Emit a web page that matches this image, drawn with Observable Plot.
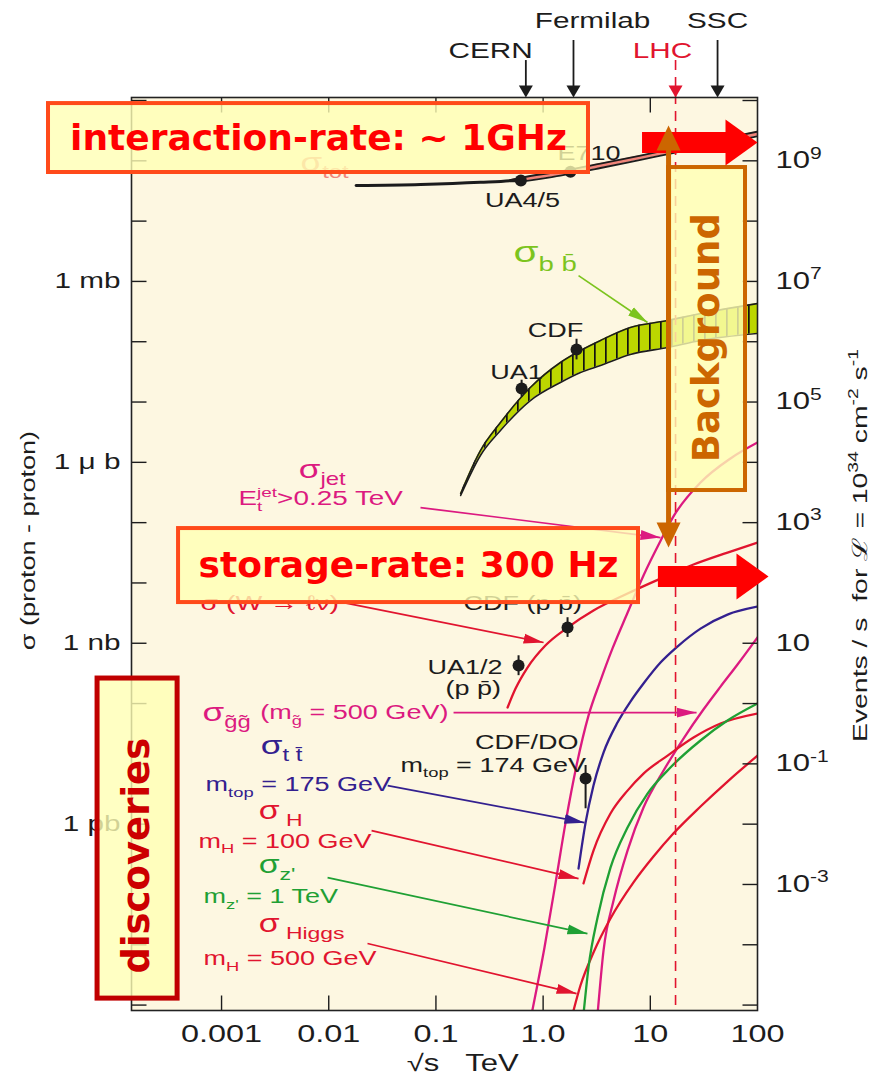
<!DOCTYPE html>
<html><head><meta charset="utf-8">
<script src="https://cdn.jsdelivr.net/npm/d3@7"></script>
<script src="https://cdn.jsdelivr.net/npm/@observablehq/plot@0.6"></script>
<style>body{margin:0;background:#fff}svg{display:block}</style>
</head><body><div id="chart"></div>
<script>
// ---------- scale domains (sqrt(s) in TeV, events/s for L = 1e34) ----------
const X_MIN = 1.445e-4, X_MAX = 100, Y_MIN = 8.13e-6, Y_MAX = 1.122e10;

// ---------- axis ticks / labels ----------
const xTickVals = [0.001, 0.01, 0.1, 1, 10, 100];
const xTickText = ["0.001", "0.01", "0.1", "1.0", "10", "100"];
const xInnerTicks = [0.001, 0.01, 0.1, 1, 10];
const yDecades = [1e-5,1e-4,1e-3,1e-2,1e-1,1,1e1,1e2,1e3,1e4,1e5,1e6,1e7,1e8,1e9,1e10];
const leftVals = [1e7, 1e4, 1e1, 1e-2];
const leftText = ["1 mb", "1 μ b", "1 nb", "1 pb"];
const rightVals = [1e9, 1e7, 1e5, 1e3, 1e1, 1e-1, 1e-3];
const rightText = ["10^{9}", "10^{7}", "10^{5}", "10^{3}", "10", "10^{-1}", "10^{-3}"];

// ---------- sigma_tot ----------
const totLineE = [0.018, 0.072, 0.26, 0.5, 0.62];
const totLineR = [3.9e8, 4.05e8, 4.4e8, 4.7e8, 4.9e8];
const totBandE  = [0.5, 0.62, 1.45, 3.43, 8.1, 19, 45, 100];
const totBandLo = [4.55e8, 4.6e8, 5.7e8, 7.6e8, 1.04e9, 1.42e9, 1.93e9, 2.55e9];
const totBandHi = [4.85e8, 5.25e8, 6.7e8, 9.0e8, 1.22e9, 1.68e9, 2.28e9, 3.05e9];

// ---------- sigma_bb band ----------
const bbE  = [0.17, 0.26, 0.40, 0.76, 1.45, 2.23, 3.43, 6.5, 14.5, 29.4, 100];
const bbHi = [3.04e3, 1.57e4, 4.57e4, 1.74e5, 4.52e5, 7.14e5, 1.05e6, 1.72e6, 2.25e6, 2.94e6, 4.3e6];
const bbLo = [2.82e3, 1.30e4, 3.37e4, 1.06e5, 2.11e5, 3.09e5, 4.04e5, 6.14e5, 8.02e5, 1.05e6, 1.37e6];

// ---------- cross-section curves ----------
const jetE = [0.78, 1.03, 1.31, 1.62, 2.05, 2.65, 3.43, 4.44, 6.13, 8.64, 12.5, 16.4, 29.4, 56, 100];
const jetR = [7e-6, 9.0e-5, 1.1e-3, 0.0106, 0.094, 0.63, 2.4, 8.2, 32, 133, 505, 1260, 4620, 1.16e4, 2.13e4];
const wE = [0.466, 0.553, 0.715, 1.05, 1.69, 2.95, 6.13, 12.45, 25.3, 52.5, 100];
const wR = [0.859, 1.77, 3.95, 9.16, 18.2, 34.9, 66.7, 118, 202, 319, 468];
const ttE = [2.14, 2.49, 2.95, 3.66, 4.94, 6.53, 8.64, 12.45, 17.9, 29.4, 52.5, 100];
const ttR = [1.84e-3, 0.0106, 0.0437, 0.154, 0.484, 1.08, 2.15, 4.79, 8.81, 17.5, 29.9, 40.6];
const gluE = [3.22, 3.66, 4.54, 6.13, 8.64, 13.3, 20.4, 31.3, 45.2, 65.1, 100];
const gluR = [7e-6, 8.0e-5, 5.4e-4, 3.65e-3, 0.0189, 0.0775, 0.263, 0.796, 1.91, 4.44, 12.5];
const h100E = [2.38, 2.95, 4.25, 6.13, 8.64, 14.5, 25.3, 45.2, 100];
const h100R = [1.04e-3, 3.65e-3, 0.015, 0.036, 0.069, 0.137, 0.273, 0.466, 0.682];
const h500E = [1.88, 2.23, 2.95, 4.25, 6.97, 10.7, 16.4, 29.4, 52.5, 100];
const h500R = [7e-6, 2.11e-5, 7.43e-5, 2.72e-4, 1.08e-3, 2.9e-3, 6.98e-3, 0.0196, 0.0509, 0.137];
const zpE = [2.38, 2.65, 3.22, 4.25, 6.13, 9.42, 15.4, 29.4, 52.5, 100];
const zpR = [7e-6, 4.19e-5, 2.83e-4, 1.9e-3, 8.8e-3, 0.0321, 0.0869, 0.244, 0.523, 1.0];

// ---------- measured points ----------
const pointE  = [0.62, 1.8, 0.63, 2.05, 1.69, 0.59, 2.49];
const pointR  = [4.7e8, 6.6e8, 1.67e5, 7.4e5, 18.2, 4.27, 0.057];
const pointLo = [4.7e8, 6.6e8, 1.2e5, 5.0e5, 12.5, 2.9, 0.018];
const pointHi = [4.7e8, 6.6e8, 2.3e5, 1.1e6, 26.5, 6.2, 0.094];

// ---------- colours ----------
const INK="#1c1c1c", MAG="#dc1a80", RED="#e1142f", BLUE="#33208f", GRN="#1fa034",
      BBG="#7cc41e", SALMON="#f0857a", CREAM="#fdf7e1", BBFILL="#bcd600",
      BOXRED="#ff4a1a", ORANGE="#cc6600", DARKRED="#c00000";
const FONT="Liberation Sans", BOLD="DejaVu Sans";

// ---------- machines (top) ----------
const machines = [
  {E:0.69, R0:4.6e10},
  {E:1.92, R0:9.9e10},
  {E:42.4, R0:9.9e10}
];
const lhc = [{E:17.2, R0:4.6e10}];
const machineLabels = [
  {t:"Fermilab", E:2.89, R:2.12e11, c:INK},
  {t:"CERN", E:0.324, R:6.75e10, c:INK},
  {t:"LHC", E:13.0, R:6.75e10, c:RED},
  {t:"SSC", E:42.4, R:2.12e11, c:INK}
];

// ---------- annotations (data coordinates) ----------
const chartLabels = [
  {t:"σ_{tot}", E:5.46e-3, R:9.4e8, c:SALMON, s:26},
  {t:"UA4/5", E:0.643, R:2.2e8, c:INK, s:20, a:"middle"},
  {t:"E710", E:1.36, R:1.32e9, c:INK, s:20},
  {t:"σ_{b b\u0304}", E:0.53, R:3.0e7, c:BBG, s:30},
  {t:"UA1", E:0.565, R:3.08e5, c:INK, s:20, a:"middle"},
  {t:"CDF", E:1.306, R:1.53e6, c:INK, s:20, a:"middle"},
  {t:"σ_{jet}", E:5.25e-3, R:7.6e3, c:MAG, s:26},
  {t:"E_{t}^{jet}>0.25 TeV", E:1.44e-3, R:2.51e3, c:MAG, s:20},
  {t:"σ (W → ℓν)", E:6.37e-4, R:45.6, c:RED, s:21},
  {t:"CDF (p p\u0304)", E:0.181, R:45.6, c:INK, s:20},
  {t:"UA1/2", E:0.0835, R:3.95, c:INK, s:20},
  {t:"(p p\u0304)", E:0.123, R:1.77, c:INK, s:20},
  {t:"σ_{g\u0303g\u0303}", E:6.65e-4, R:0.71, c:MAG, s:26},
  {t:"(m_{g\u0303} = 500 GeV)", E:2.3e-3, R:0.71, c:MAG, s:20},
  {t:"σ_{t t\u0304}", E:2.32e-3, R:0.2, c:BLUE, s:26},
  {t:"m_{top} = 175 GeV", E:7.1e-4, R:0.045, c:BLUE, s:20},
  {t:"CDF/DO", E:0.232, R:0.225, c:INK, s:20},
  {t:"m_{top} = 174 GeV", E:0.0468, R:0.094, c:INK, s:20},
  {t:"σ_{\u00a0H}", E:2.22e-3, R:0.0165, c:RED, s:25},
  {t:"m_{H} = 100 GeV", E:6.1e-4, R:5.2e-3, c:RED, s:20},
  {t:"σ_{z'}", E:2.22e-3, R:2.1e-3, c:GRN, s:25},
  {t:"m_{z'} = 1 TeV", E:6.79e-4, R:6.3e-4, c:GRN, s:20},
  {t:"σ_{\u00a0Higgs}", E:2.22e-3, R:2.2e-4, c:RED, s:25},
  {t:"m_{H} = 500 GeV", E:6.79e-4, R:5.8e-5, c:RED, s:20}
];
const pointers = [
  {x1:2.14, y1:1.25e7, x2:9.42, y2:2.08e6, c:BBG},
  {x1:0.0718, y1:1.78e3, x2:12.45, y2:566, c:MAG},
  {x1:0.01374, y1:47.3, x2:1.01, y2:10.3, c:RED},
  {x1:0.146, y1:0.71, x2:27.0, y2:0.71, c:MAG},
  {x1:0.0355, y1:0.0437, x2:2.43, y2:0.0106, c:BLUE},
  {x1:0.0251, y1:7.83e-3, x2:2.14, y2:1.25e-3, c:RED},
  {x1:9.75e-3, y1:1.3e-3, x2:2.59, y2:1.53e-4, c:GRN},
  {x1:0.023, y1:1.05e-4, x2:2.05, y2:1.55e-5, c:RED}
];
const boxes = [
  {x1:2.43e-5, x2:2.65, y1:6.4e8, y2:8.9e9, c:BOXRED, w:4},
  {x1:3.97e-4, x2:7.76, y1:47.3, y2:798, c:BOXRED, w:4},
  {x1:14.8, x2:77.3, y1:3.41e3, y2:7.74e8, c:ORANGE, w:4},
  {x1:6.97e-5, x2:3.89e-4, y1:1.28e-5, y2:2.6, c:DARKRED, w:5}
];
const gm = (a, b) => Math.sqrt(a * b);
const boxTexts = [
  {t:"interaction-rate: ~ 1GHz", E:gm(2.43e-5, 2.65), R:gm(6.4e8, 8.9e9), c:"#ff0000", r:0},
  {t:"storage-rate: 300 Hz", E:gm(3.97e-4, 7.76), R:gm(47.3, 798), c:"#ff0000", r:0},
  {t:"Background", E:gm(14.8, 77.3), R:1.17e6, c:ORANGE, r:-90},
  {t:"discoveries", E:gm(6.97e-5, 3.89e-4), R:3.0e-3, c:"#cc0000", r:-90}
];
const blockArrows = [
  {E1:8.46, E2:100, R:2.01e9},
  {E1:11.9, E2:126.7, R:128}
];
const bgArrow = [{E:14.8, top:3.85e9, bottom:386}];

// ---------- helpers ----------
const pts = (E, R) => E.map((e, i) => ({E: e, R: R[i]}));
const band = (E, lo, hi) => E.map((e, i) => ({E: e, lo: lo[i], hi: hi[i]}));
const head = (L, W) => ({draw(ctx){ ctx.moveTo(0,0); ctx.lineTo(-L,-W); ctx.lineTo(-L,W); ctx.closePath(); }});
const tickSym = {draw(ctx){ ctx.moveTo(0,0); ctx.lineTo(0,-15); }};
const points = pointE.map((e, i) => ({E:e, R:pointR[i], lo:pointLo[i], hi:pointHi[i]}));
const totBand = band(totBandE, totBandLo, totBandHi);
const bbBand = band(bbE, bbLo, bbHi);
const curves = [
  {d: pts(jetE, jetR), c: MAG},
  {d: pts(wE, wR), c: RED},
  {d: pts(ttE, ttR), c: BLUE},
  {d: pts(gluE, gluR), c: MAG},
  {d: pts(h100E, h100R), c: RED},
  {d: pts(h500E, h500R), c: RED},
  {d: pts(zpE, zpR), c: GRN}
];
const CR = "monotone-x";

const chart = Plot.plot({
  width: 877, height: 1080,
  marginLeft: 131, marginRight: 120, marginTop: 97, marginBottom: 70,
  style: {background: "white", overflow: "visible"},
  x: {type: "log", domain: [X_MIN, X_MAX], axis: null},
  y: {type: "log", domain: [Y_MIN, Y_MAX], axis: null},
  marks: [
    Plot.frame({fill: CREAM, stroke: "none"}),
    // sigma_tot
    Plot.areaY(totBand, {x:"E", y1:"lo", y2:"hi", fill:SALMON, curve:CR, clip:true}),
    Plot.line(totBand, {x:"E", y:"lo", stroke:INK, strokeWidth:1.8, curve:CR, clip:true}),
    Plot.line(totBand, {x:"E", y:"hi", stroke:INK, strokeWidth:1.8, curve:CR, clip:true}),
    Plot.line(pts(totLineE, totLineR), {x:"E", y:"R", stroke:INK, strokeWidth:3, curve:CR, clip:true}),
    // sigma_bb
    Plot.areaY(bbBand, {x:"E", y1:"lo", y2:"hi", fill:BBFILL, curve:CR, clip:true}),
    Plot.line(bbBand, {x:"E", y:"lo", stroke:INK, strokeWidth:1.6, curve:CR, clip:true}),
    Plot.line(bbBand, {x:"E", y:"hi", stroke:INK, strokeWidth:1.6, curve:CR, clip:true}),
    // curves
    ...curves.map(c => Plot.line(c.d, {x:"E", y:"R", stroke:c.c, strokeWidth:2.3, curve:CR, clip:true})),
    // LHC dashed line
    Plot.ruleX(lhc, {x:"E", y1:"R0", y2:() => Y_MIN, stroke:RED, strokeWidth:1.6, strokeDasharray:"10,7"}),
    Plot.dot(lhc, {x:"E", y:() => Y_MAX, symbol:head(12,7), rotate:90, fill:RED, stroke:"none"}),
    // measured points
    Plot.ruleX(points, {x:"E", y1:"hi", y2:"lo", stroke:INK, strokeWidth:2}),
    Plot.dot(points, {x:"E", y:"R", r:6, fill:INK, stroke:"none"}),
    // pointers
    ...pointers.map(p => Plot.link([p], {x1:"x1", y1:"y1", x2:"x2", y2:"y2", stroke:p.c, strokeWidth:1.7, markerEnd:"arrow"})),
    // chart labels
    ...chartLabels.map(d => Plot.text([d], {x:"E", y:"R", text:"t", fill:d.c, fontSize:d.s, textAnchor:d.a || "start", fontFamily:FONT})),
    // ticks
    Plot.dot(xInnerTicks, {x:d => d, y:() => Y_MIN, symbol:tickSym, rotate:0, fill:"none", stroke:INK, strokeWidth:1.4}),
    Plot.dot(xInnerTicks, {x:d => d, y:() => Y_MAX, symbol:tickSym, rotate:180, fill:"none", stroke:INK, strokeWidth:1.4}),
    Plot.dot(yDecades, {x:() => X_MIN, y:d => d, symbol:tickSym, rotate:90, fill:"none", stroke:INK, strokeWidth:1.4}),
    Plot.dot(yDecades, {x:() => X_MAX, y:d => d, symbol:tickSym, rotate:-90, fill:"none", stroke:INK, strokeWidth:1.4}),
    Plot.frame({stroke:"#222", strokeWidth:1.6}),
    // axis labels
    Plot.text(xTickVals, {x:d => d, y:() => Y_MIN, text:(d, i) => xTickText[i], dy:24, fontSize:24, fontFamily:FONT, fill:INK}),
    Plot.text(leftVals, {x:() => X_MIN, y:d => d, text:(d, i) => leftText[i], dx:-11, textAnchor:"end", fontSize:22, fontFamily:FONT, fill:INK}),
    Plot.text(rightVals, {x:() => X_MAX, y:d => d, text:(d, i) => rightText[i], dx:18, textAnchor:"start", fontSize:23, fontFamily:FONT, fill:INK}),
    Plot.text([{t:"√s\u00a0\u00a0\u00a0TeV", E:0.178}], {x:"E", y:() => Y_MIN, text:"t", dy:53, fontSize:23, fontFamily:FONT, fill:INK}),
    Plot.text([{t:"σ (proton - proton)", E:1.58e-5, R:505}], {x:"E", y:"R", text:"t", rotate:-90, fontSize:20, fontFamily:FONT, fill:INK}),
    Plot.text([{t:"Events / s\u00a0 for ℒ = 10^{34} cm^{-2} s^{-1}", E:914, R:417}], {x:"E", y:"R", text:"t", rotate:-90, fontSize:21, fontFamily:FONT, fill:INK}),
    // machines
    Plot.ruleX(machines, {x:"E", y1:"R0", y2:() => Y_MAX, stroke:INK, strokeWidth:1.8, insetBottom:8}),
    Plot.dot(machines, {x:"E", y:() => Y_MAX, symbol:head(12,7), rotate:90, fill:INK, stroke:"none"}),
    ...machineLabels.map(d => Plot.text([d], {x:"E", y:"R", text:"t", fill:d.c, fontSize:22, fontFamily:FONT})),
    // overlay boxes
    ...boxes.map(b => Plot.rect([b], {x1:"x1", x2:"x2", y1:"y1", y2:"y2", fill:"#ffffb4", fillOpacity:0.8, stroke:b.c, strokeWidth:b.w})),
    ...boxTexts.map(d => Plot.text([d], {x:"E", y:"R", text:"t", fill:d.c, rotate:d.r, fontSize:d.r ? 37 : 36, fontWeight:"bold", fontFamily:BOLD})),
    // block arrows
    Plot.ruleY(blockArrows, {y:"R", x1:"E1", x2:"E2", stroke:"#ff0000", strokeWidth:21, insetRight:26}),
    Plot.dot(blockArrows, {x:"E2", y:"R", symbol:head(32,23), fill:"#ff0000", stroke:"none"}),
    // background double arrow
    Plot.ruleX(bgArrow, {x:"E", y1:"top", y2:"bottom", stroke:ORANGE, strokeWidth:5, insetTop:20, insetBottom:20}),
    Plot.dot(bgArrow, {x:"E", y:"top", symbol:head(25,12), rotate:-90, fill:ORANGE, stroke:"none"}),
    Plot.dot(bgArrow, {x:"E", y:"bottom", symbol:head(25,12), rotate:90, fill:ORANGE, stroke:"none"})
  ]
});
document.getElementById("chart").appendChild(chart);

// ---------- post-processing ----------
const NS = "http://www.w3.org/2000/svg";
const svg = chart.tagName.toLowerCase() === "svg" ? chart : chart.querySelector("svg");
const defs = document.createElementNS(NS, "defs");
defs.innerHTML = '<pattern id="bbhatch" patternUnits="userSpaceOnUse" width="11" height="10">' +
  '<rect width="11" height="10" fill="' + BBFILL + '"/><rect x="0" width="1.7" height="10" fill="#111"/></pattern>';
svg.insertBefore(defs, svg.firstChild);
svg.querySelectorAll('[fill="' + BBFILL + '"]').forEach(el => { if (!el.closest("pattern")) el.setAttribute("fill", "url(#bbhatch)"); });
svg.querySelectorAll("marker").forEach(mk => {
  const c = mk.getAttribute("stroke") || "black";
  mk.setAttribute("viewBox", "-20 -6 21 12");
  mk.setAttribute("markerWidth", 21);
  mk.setAttribute("markerHeight", 12);
  mk.setAttribute("markerUnits", "userSpaceOnUse");
  mk.setAttribute("fill", c);
  mk.setAttribute("stroke", "none");
  const p = mk.querySelector("path");
  if (p) p.setAttribute("d", "M-20,-5L0,0L-20,5Z");
});
svg.querySelectorAll("text").forEach(t => {
  const s = t.textContent;
  if (!/[_^]\{/.test(s)) return;
  const fs = parseFloat(getComputedStyle(t).fontSize) || 16;
  t.textContent = "";
  const re = /([_^])\{([^}]*)\}|([^_^]+)/g;
  let m, cur = 0, prevTs = null, prevKind = "n";
  while ((m = re.exec(s)) !== null) {
    const ts = document.createElementNS(NS, "tspan");
    let kind, off;
    if (m[1]) {
      kind = m[1];
      off = kind === "_" ? 0.28 * fs : -0.42 * fs;
      ts.setAttribute("font-size", (0.68 * fs).toFixed(1));
      ts.textContent = m[2];
    } else { kind = "n"; off = 0; ts.textContent = m[3]; }
    if (off !== cur) ts.setAttribute("dy", (off - cur).toFixed(2));
    cur = off;
    t.appendChild(ts);
    if (kind !== "n" && prevKind !== "n" && kind !== prevKind && prevTs)
      ts.setAttribute("dx", (-prevTs.getComputedTextLength()).toFixed(2));
    prevTs = ts; prevKind = kind;
  }
});
svg.querySelectorAll("text").forEach(t => {
  const g = t.closest("[font-family]");
  if (!g || g.getAttribute("font-family") !== FONT) return;
  const L = t.getComputedTextLength();
  if (L > 0) { t.setAttribute("textLength", (L * 1.35).toFixed(1)); t.setAttribute("lengthAdjust", "spacingAndGlyphs"); }
});
</script></body></html>
